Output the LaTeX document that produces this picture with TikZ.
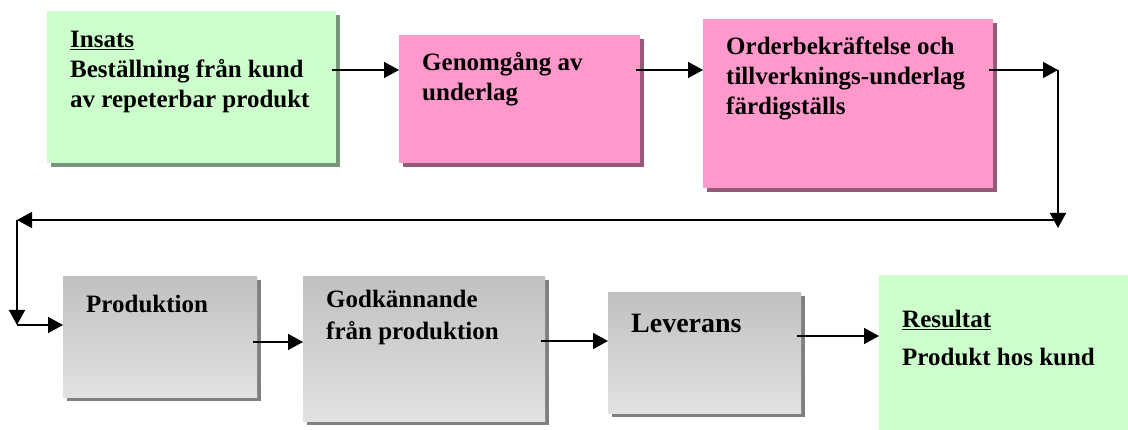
\documentclass[tikz,border=0pt]{standalone}
\usepackage{fontspec}
\setmainfont{Liberation Serif}
\definecolor{inoutgreen}{RGB}{204,255,204}
\definecolor{greenrim}{RGB}{226,255,226}
\definecolor{greenshadow}{RGB}{122,150,122}
\definecolor{reviewpink}{RGB}{255,153,204}
\definecolor{pinkrim}{RGB}{255,188,222}
\definecolor{pinkshadow}{RGB}{150,90,120}
\definecolor{graytop}{RGB}{192,192,192}
\definecolor{graybottom}{RGB}{226,226,226}
\definecolor{grayrim}{RGB}{232,232,232}
\definecolor{grayshadow}{RGB}{128,128,128}
\usetikzlibrary{calc, arrows.meta, shadows}

% width, height, first baseline, text
\newcommand{\boxtext}[4]{%
  \parbox[c][#2pt][t]{#1pt}{\raggedright\leftskip=23pt\rule{0pt}{#3pt}#4}}

\begin{document}
\begin{tikzpicture}[x=1pt, y=-1pt,
    boxbase/.style={anchor=north west, inner sep=0pt,
      font=\bfseries\fontsize{25}{30}\selectfont},
    greenbox/.style={boxbase, fill=inoutgreen,
      drop shadow={shadow xshift=4pt, shadow yshift=-4pt, fill=greenshadow, opacity=1},
      append after command={[draw=greenrim, line width=2.5pt]
        ([xshift=1.25pt]\tikzlastnode.south west) |- ([yshift=-1.25pt]\tikzlastnode.north east)}},
    pinkbox/.style={boxbase, fill=reviewpink,
      drop shadow={shadow xshift=4pt, shadow yshift=-4pt, fill=pinkshadow, opacity=1},
      append after command={[draw=pinkrim, line width=2.5pt]
        ([xshift=1.25pt]\tikzlastnode.south west) |- ([yshift=-1.25pt]\tikzlastnode.north east)}},
    graybox/.style={boxbase, top color=graytop, bottom color=graybottom,
      drop shadow={shadow xshift=4pt, shadow yshift=-4pt, fill=grayshadow, opacity=1},
      append after command={[draw=grayrim, line width=2.5pt]
        ([xshift=1.25pt]\tikzlastnode.south west) |- ([yshift=-1.25pt]\tikzlastnode.north east)}},
    flow/.style={-{Triangle[length=15pt,width=16pt]}, line width=1.6pt},
    fromshadow/.style={flow, shorten <=-4pt}]
  \useasboundingbox (0,0) rectangle (1128,430);
  \clip (0,0) rectangle (1128,430);

  % upper row
  \node[greenbox] (insats) at (47,11)
    {\boxtext{289}{152}{36}{\underline{Insats}\\Beställning från kund\\av repeterbar produkt}};
  \node[pinkbox] (genomgang) at (399,35)
    {\boxtext{241}{128}{35}{Genomgång av\\underlag}};
  \node[pinkbox] (order) at (703,19)
    {\boxtext{290}{169}{35}{Orderbekräftelse och\\tillverknings-underlag\\färdigställs}};

  % lower row
  \node[graybox] (produktion) at (63,276)
    {\boxtext{194}{121}{36}{Produktion}};
  \node[graybox] (godkannande) at (303,276)
    {\boxtext{242}{145}{31}{Godkännande\\[2pt]från produktion}};
  \node[graybox] (leverans) at (608,292)
    {\boxtext{193}{121}{40}{\fontsize{28}{34}\selectfont Leverans}};
  \node[greenbox] (resultat) at (879,275)
    {\boxtext{261}{170}{52}{\underline{Resultat}\\[8pt]Produkt hos kund}};

  \coordinate (rowtop) at (0,70);
  \coordinate (turnNE) at (1058,70);
  \coordinate (turnSE) at (1058,220);
  \coordinate (turnSW) at (17,220);
  \coordinate (entry) at (17,325);
  \coordinate (rowP) at (0,342);
  \coordinate (rowG) at (0,341);
  \coordinate (rowL) at (0,336);

  \draw[fromshadow] (insats.east |- rowtop) -- (genomgang.west |- rowtop);
  \draw[fromshadow] (genomgang.east |- rowtop) -- (order.west |- rowtop);
  \draw[fromshadow] (order.east |- rowtop) -- (turnNE);
  \draw[flow, shorten >=-8pt] (turnNE) -- (turnSE);
  \draw[flow] (turnSE) -- (turnSW);
  \draw[flow] (turnSW) -- (entry);
  \draw[flow] (entry) -- (produktion.west |- entry);
  \draw[fromshadow] (produktion.east |- rowP) -- (godkannande.west |- rowP);
  \draw[fromshadow] (godkannande.east |- rowG) -- (leverans.west |- rowG);
  \draw[fromshadow] (leverans.east |- rowL) -- (resultat.west |- rowL);
\end{tikzpicture}
\end{document}
